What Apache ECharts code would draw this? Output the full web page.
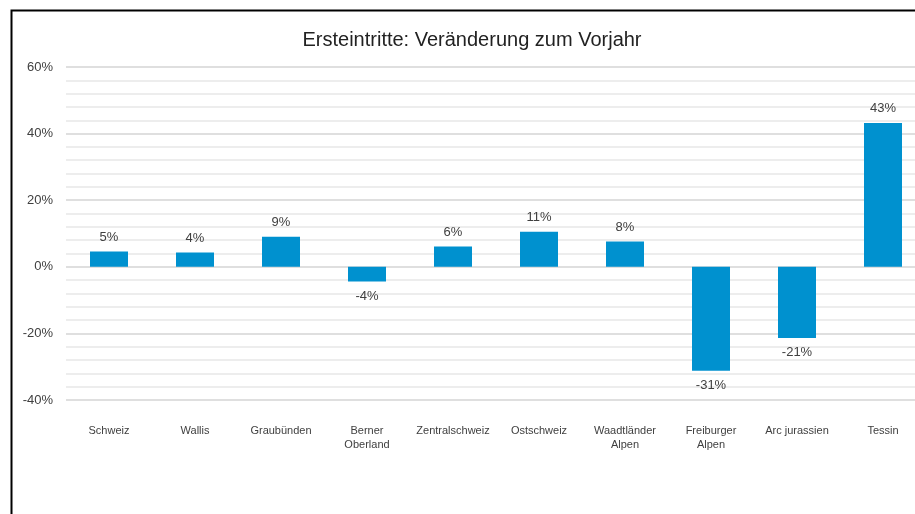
<!DOCTYPE html>
<html>
<head>
<meta charset="utf-8">
<script src="https://cdn.jsdelivr.net/npm/echarts@6/dist/echarts.min.js"></script>
<style>
html,body{margin:0;padding:0;background:#fff;overflow:hidden;width:915px;height:514px;}
#c{width:930px;height:514px;}
</style>
</head>
<body>
<div id="c"></div>
<script>
const categories = ['Schweiz','Wallis','Graubünden','Berner\nOberland','Zentralschweiz','Ostschweiz','Waadtländer\nAlpen','Freiburger\nAlpen','Arc jurassien','Tessin'];
const values = [4.6, 4.3, 9.0, -4.4, 6.1, 10.5, 7.6, -31.2, -21.4, 43.2];
const yTicks = { min: -40, max: 60, interval: 20 };
const titleText = 'Ersteintritte: Veränderung zum Vorjahr';

const chart = echarts.init(document.getElementById('c'), null, {renderer: 'canvas'});
const font = '"Liberation Sans", Arial, sans-serif';
chart.setOption({
  animation: false,
  backgroundColor: '#fff',
  textStyle: { fontFamily: font },
  title: {
    text: titleText,
    left: 467, top: 25, textAlign: 'center',
    textStyle: { fontFamily: font, fontSize: 20, fontWeight: 'normal', color: '#222' }
  },
  graphic: [{
    type: 'rect', left: 9, top: 8, z: 100, silent: true,
    shape: { width: 930, height: 530 },
    style: { fill: 'none', stroke: '#000', lineWidth: 2 }
  }],
  grid: { left: 66, top: 67, width: 860, height: 333, containLabel: false },
  xAxis: {
    type: 'category', data: categories,
    position: 'bottom',
    axisLine: { show: false, onZero: false },
    axisTick: { show: false },
    axisLabel: { interval: 0, fontSize: 11, color: '#404040', margin: 24, lineHeight: 14, fontFamily: font },
    splitLine: { show: false }
  },
  yAxis: {
    type: 'value', min: yTicks.min, max: yTicks.max, interval: yTicks.interval,
    axisLine: { show: false }, axisTick: { show: false },
    axisLabel: { formatter: '{value}%', fontSize: 13, color: '#404040', margin: 13, fontFamily: font },
    splitLine: { show: true, lineStyle: { color: '#d4d4d4', width: 1.5 } },
    minorTick: { show: false, splitNumber: 5 },
    minorSplitLine: { show: true, lineStyle: { color: '#e8e8e8', width: 1.5 } }
  },
  series: [{
    type: 'bar',
    barWidth: 38,
    itemStyle: { color: '#0091cf' },
    data: values.map(v => ({
      value: v,
      label: { position: v < 0 ? 'bottom' : 'top' }
    })),
    label: {
      show: true, distance: 8, fontSize: 13, color: '#404040', fontFamily: font,
      formatter: p => Math.round(p.value) + '%'
    }
  }]
});
</script>
</body>
</html>
